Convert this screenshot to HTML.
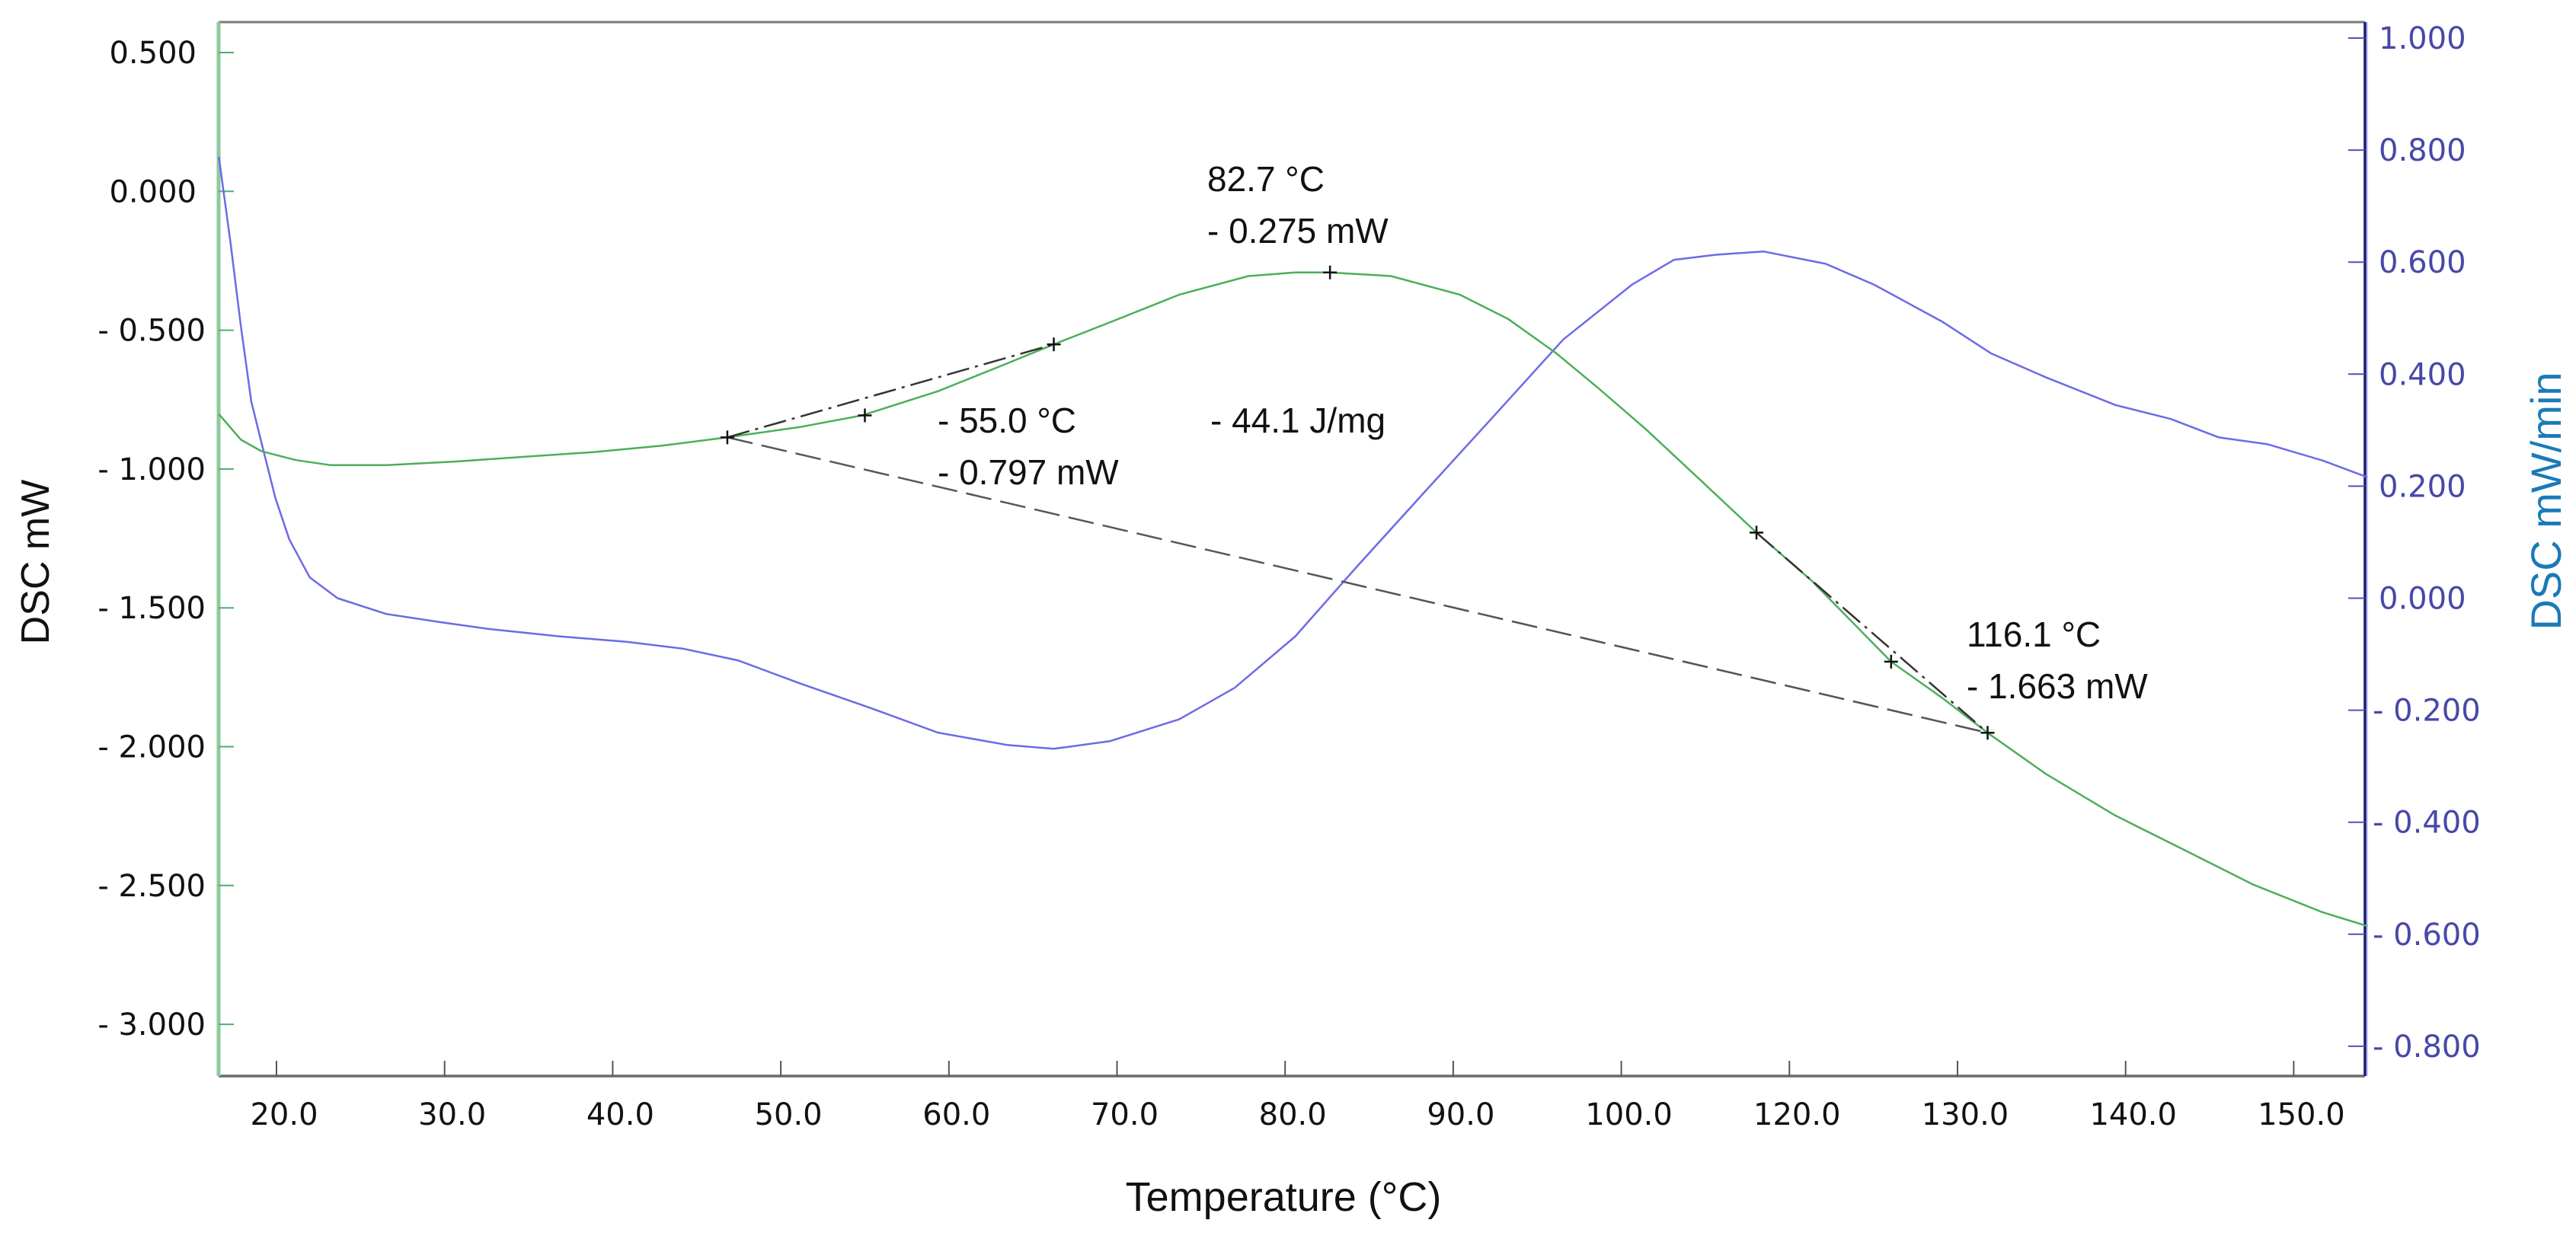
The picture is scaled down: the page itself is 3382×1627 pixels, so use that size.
<!DOCTYPE html>
<html><head><meta charset="utf-8"><title>DSC curve</title>
<style>
html,body{margin:0;padding:0;background:#fff;}
svg{display:block;}
text{font-family:"DejaVu Sans","Liberation Sans",sans-serif;}
.ttl{font-family:"Liberation Sans",sans-serif;}
</style></head>
<body>
<svg id="chart" width="3382" height="1627" viewBox="0 0 3382 1627" xmlns="http://www.w3.org/2000/svg">
<rect x="0" y="0" width="3382" height="1627" fill="#fff"/>
<g id="grid"></g>
<g id="series"></g>
<g id="annot"></g>
</svg>
<script>
// ---- data ----
const xTickValues = [20,30,40,50,60,70,80,90,100,110,120,130,140];
const xTickLabels = ["20.0","30.0","40.0","50.0","60.0","70.0","80.0","90.0","100.0","120.0","130.0","140.0","150.0"];
const leftTickValues = [0.5,0,-0.5,-1,-1.5,-2,-2.5,-3];
const leftTickLabels = ["0.500","0.000","- 0.500","- 1.000","- 1.500","- 2.000","- 2.500","- 3.000"];
const rightTickValues = [1,0.8,0.6,0.4,0.2,0,-0.2,-0.4,-0.6,-0.8];
const rightTickLabels = ["1.000","0.800","0.600","0.400","0.200","0.000","- 0.200","- 0.400","- 0.600","- 0.800"];

const dscT = [16.57,17.88,19.11,21.16,23.22,26.5,30.61,34.71,38.82,42.92,46.82,51.13,54.83,59.34,63.45,66.24,69.61,73.71,77.82,80.61,82.67,86.29,90.39,93.26,96.13,98.6,101.47,104.76,108.04,111.33,116.05,119.13,121.79,125.28,129.39,133.49,137.6,141.7,144.37];
const dscMw = [-0.802,-0.894,-0.936,-0.968,-0.986,-0.986,-0.973,-0.956,-0.939,-0.916,-0.886,-0.849,-0.807,-0.72,-0.62,-0.551,-0.471,-0.372,-0.305,-0.292,-0.292,-0.305,-0.372,-0.459,-0.583,-0.707,-0.857,-1.043,-1.229,-1.403,-1.694,-1.826,-1.95,-2.099,-2.248,-2.372,-2.497,-2.596,-2.646];

const derivT = [16.57,17.27,17.88,18.5,19.11,19.93,20.76,21.98,23.63,26.5,29.79,32.66,36.76,40.87,44.16,47.44,51.13,55.24,59.34,63.45,66.24,69.61,73.71,77.0,80.61,84.23,88.34,92.44,96.55,100.65,103.12,105.58,108.45,112.15,115.02,119.13,122.0,125.28,129.39,132.67,135.55,138.42,141.7,144.37];
const derivVal = [0.788,0.634,0.486,0.351,0.277,0.179,0.105,0.037,0.0,-0.028,-0.043,-0.055,-0.068,-0.078,-0.09,-0.111,-0.152,-0.195,-0.24,-0.262,-0.269,-0.255,-0.216,-0.16,-0.068,0.055,0.191,0.326,0.462,0.56,0.604,0.613,0.619,0.597,0.56,0.493,0.437,0.394,0.345,0.32,0.287,0.275,0.246,0.216];

const baselineT = [46.82,121.79];
const baselineV = [-0.886,-1.95];
const onsetT = [46.82,66.24];
const onsetV = [-0.886,-0.551];
const endsetT = [108.04,121.79];
const endsetV = [-1.229,-1.95];
const markerT = [46.82,55.0,66.24,82.67,108.04,116.05,121.79];
const markerV = [-0.886,-0.807,-0.551,-0.292,-1.229,-1.694,-1.95];

// ---- scales ----
const PL=287, PR=3105, PT=29, PB=1413;
function xs(t){ return 363 + (t-20)*22.07; }
function yl(v){ return 69 + (0.5-v)*364.6; }
function yr(v){ return 50 + (1.0-v)*735.5; }

const NS="http://www.w3.org/2000/svg";
function mk(tag, attrs, parent){
  const e=document.createElementNS(NS,tag);
  for(const k in attrs) e.setAttribute(k,attrs[k]);
  parent.appendChild(e); return e;
}
const grid=document.getElementById('grid');
const series=document.getElementById('series');
const annot=document.getElementById('annot');

// frame
let e;
e=mk('line',{x1:PL,y1:PT,x2:PR,y2:PT,stroke:'#7a7a7a','stroke-width':3},grid);


e=mk('line',{x1:PL,y1:PB,x2:PR,y2:PB,stroke:'#6a6a6a','stroke-width':3.5},grid);


e=mk('line',{x1:PL,y1:PT,x2:PL,y2:PB,stroke:'#8ccaa0','stroke-width':5},grid);


e=mk('line',{x1:PR+1,y1:PT,x2:PR+1,y2:PB,stroke:'#c8c8f0','stroke-width':6},grid);


e=mk('line',{x1:PR,y1:PT,x2:PR,y2:PB,stroke:'#1c1c7a','stroke-width':3.5},grid);



// x ticks
xTickValues.forEach((v,i)=>{
  const x=xs(v);
  const t=mk('line',{x1:x,y1:PB-20,x2:x,y2:PB,stroke:'#555','stroke-width':2},grid);
  
  
  const l=mk('text',{x:x+10,y:1477,'font-size':40,'text-anchor':'middle',fill:'#111'},grid);
  l.textContent=xTickLabels[i];
  
  
});
// left ticks
leftTickValues.forEach((v,i)=>{
  const y=yl(v);
  const t=mk('line',{x1:PL,y1:y,x2:PL+20,y2:y,stroke:'#4fae6a','stroke-width':2},grid);
  
  
  const neg=leftTickLabels[i].indexOf('-')===0;
  const l=mk('text',{x:neg?270:258,y:y+14,'font-size':40,'text-anchor':'end',fill:'#111'},grid);
  l.textContent=leftTickLabels[i];
  
  
});
// right ticks
rightTickValues.forEach((v,i)=>{
  const y=yr(v);
  const t=mk('line',{x1:PR-22,y1:y,x2:PR,y2:y,stroke:'#5050b8','stroke-width':2},grid);
  
  
  const neg=rightTickLabels[i].indexOf('-')===0;
  const l=mk('text',{x:neg?3115:3123,y:y+14,'font-size':40,'text-anchor':'start',fill:'#4848a8'},grid);
  l.textContent=rightTickLabels[i];
  
  
});

// axis titles
e=mk('text',{x:1685,y:1590,'font-size':54,'text-anchor':'middle',fill:'#111','class':'ttl'},grid);
e.textContent='Temperature (°C)';


e=mk('text',{x:0,y:0,'font-size':52,'text-anchor':'middle',fill:'#111','class':'ttl',transform:'translate(64,738) rotate(-90)'},grid);
e.textContent='DSC mW';


e=mk('text',{x:0,y:0,'font-size':56,'text-anchor':'middle',fill:'#1a7ab8','class':'ttl',transform:'translate(3362,658) rotate(-90)'},grid);
e.textContent='DSC mW/min';



// series
function pathFrom(ts,vs,yf){ return ts.map((t,i)=>(i?'L':'M')+xs(t).toFixed(1)+' '+yf(vs[i]).toFixed(1)).join(' '); }
e=mk('path',{d:pathFrom(derivT,derivVal,yr),fill:'none',stroke:'#6b6be6','stroke-width':2.5,'stroke-linejoin':'round'},series);


e=mk('path',{d:pathFrom(dscT,dscMw,yl),fill:'none',stroke:'#4caf5a','stroke-width':2.5,'stroke-linejoin':'round'},series);



// construction lines
e=mk('path',{d:pathFrom(baselineT,baselineV,yl),fill:'none',stroke:'#555','stroke-width':2.5,'stroke-dasharray':'34 12'},annot);


e=mk('path',{d:pathFrom(onsetT,onsetV,yl),fill:'none',stroke:'#333','stroke-width':2.5,'stroke-dasharray':'30 8 4 8'},annot);


e=mk('path',{d:pathFrom(endsetT,endsetV,yl),fill:'none',stroke:'#333','stroke-width':2.5,'stroke-dasharray':'30 8 4 8'},annot);


markerT.forEach((t,i)=>{
  const x=xs(t), y=yl(markerV[i]);
  const m=mk('path',{d:`M${x-9} ${y}L${x+9} ${y}M${x} ${y-9}L${x} ${y+9}`,stroke:'#111','stroke-width':2.5},annot);
  
  
});

// text annotations
const notes=[
  ['82.7 °C',1585,251,'peak-temperature-label'],
  ['- 0.275 mW',1585,319,'peak-value-label'],
  ['- 55.0 °C',1231,568,'onset-temperature-label'],
  ['- 0.797 mW',1231,636,'onset-value-label'],
  ['- 44.1 J/mg',1589,568,'enthalpy-label'],
  ['116.1 °C',2582,849,'endset-temperature-label'],
  ['- 1.663 mW',2582,917,'endset-value-label']
];
notes.forEach(n=>{
  const t=mk('text',{x:n[1],y:n[2],'font-size':46,fill:'#111','class':'ttl'},annot);
  t.textContent=n[0];
  
  
});
</script>
</body></html>
